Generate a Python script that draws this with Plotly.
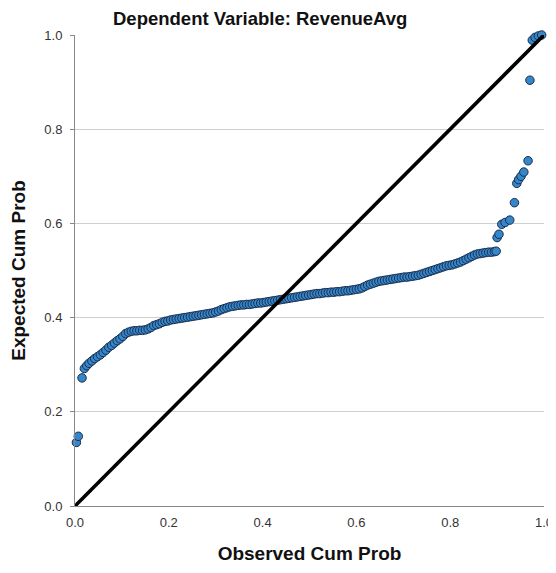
import plotly.graph_objects as go

# Observed cumulative probability (x) and expected cumulative probability (y)
observed = [
    0.003, 0.007,
    0.015, 0.020, 0.025, 0.030, 0.036, 0.042, 0.048, 0.054, 0.060, 0.066, 0.072, 0.078, 0.084, 0.090, 0.096, 0.102, 0.108, 0.114, 0.120,
    0.126, 0.132, 0.138, 0.144, 0.150, 0.156, 0.162, 0.168, 0.174, 0.180, 0.186, 0.192, 0.198, 0.204, 0.210, 0.216, 0.222, 0.228, 0.234, 0.240,
    0.246, 0.252, 0.258, 0.264, 0.270, 0.276, 0.282, 0.288, 0.294, 0.300, 0.306, 0.312, 0.318, 0.324, 0.330, 0.336, 0.342, 0.348, 0.354, 0.360,
    0.366, 0.372, 0.378, 0.384, 0.390, 0.396, 0.402, 0.408, 0.414, 0.420, 0.426, 0.432, 0.438, 0.444, 0.450, 0.456, 0.462, 0.468, 0.474, 0.480,
    0.486, 0.492, 0.498,
    0.504, 0.510, 0.516, 0.522, 0.528, 0.534, 0.540, 0.546, 0.552, 0.558, 0.564, 0.570, 0.576, 0.582, 0.588, 0.594, 0.600, 0.606, 0.612, 0.618,
    0.624, 0.630, 0.636, 0.642, 0.648, 0.654, 0.660, 0.666, 0.672, 0.678, 0.684, 0.690, 0.696, 0.702, 0.708, 0.714, 0.720, 0.726, 0.732, 0.738,
    0.744, 0.750,
    0.756, 0.762, 0.768, 0.774, 0.780, 0.786, 0.792, 0.798, 0.804, 0.810, 0.816, 0.822, 0.828, 0.834, 0.840, 0.846, 0.852, 0.858, 0.864, 0.870,
    0.876, 0.882, 0.888, 0.894, 0.898,
    0.900, 0.904, 0.910, 0.917, 0.927, 0.937, 0.942, 0.946, 0.951, 0.957, 0.966, 0.970, 0.975, 0.981, 0.988, 0.995,
]
expected = [
    0.135, 0.148,
    0.272, 0.292, 0.298, 0.303, 0.308, 0.313, 0.317, 0.321, 0.326, 0.331, 0.337, 0.341, 0.346, 0.351, 0.355, 0.360, 0.366, 0.369, 0.371,
    0.372, 0.372, 0.373, 0.373, 0.374, 0.376, 0.379, 0.383, 0.385, 0.387, 0.390, 0.392, 0.393, 0.395, 0.396, 0.397, 0.398, 0.399, 0.400, 0.401,
    0.402, 0.403, 0.404, 0.405, 0.406, 0.407, 0.408, 0.409, 0.410, 0.412, 0.414, 0.417, 0.419, 0.421, 0.423, 0.424, 0.425, 0.426, 0.427, 0.427,
    0.428, 0.428, 0.429, 0.430, 0.431, 0.431, 0.432, 0.433, 0.434, 0.435, 0.436, 0.437, 0.438, 0.439, 0.440, 0.441, 0.442, 0.443, 0.444, 0.445,
    0.446, 0.447, 0.448,
    0.449, 0.450, 0.451, 0.451, 0.452, 0.453, 0.453, 0.454, 0.454, 0.455, 0.455, 0.456, 0.457, 0.457, 0.458, 0.459, 0.460, 0.461, 0.463, 0.466,
    0.469, 0.471, 0.473, 0.475, 0.477, 0.478, 0.479, 0.480, 0.481, 0.482, 0.483, 0.484, 0.485, 0.486, 0.486, 0.487, 0.488, 0.489, 0.490, 0.492,
    0.494, 0.496,
    0.498, 0.500, 0.502, 0.504, 0.506, 0.508, 0.510, 0.511, 0.512, 0.514, 0.516, 0.518, 0.521, 0.524, 0.527, 0.530, 0.533, 0.535, 0.536, 0.537,
    0.538, 0.539, 0.539, 0.540, 0.541,
    0.570, 0.577, 0.598, 0.602, 0.607, 0.644, 0.685, 0.693, 0.700, 0.709, 0.733, 0.904, 0.989, 0.995, 0.998, 1.000,
]

ref_line = [0.0, 1.0]
tick_vals = [0.0, 0.2, 0.4, 0.6, 0.8, 1.0]
tick_text = ["0.0", "0.2", "0.4", "0.6", "0.8", "1.0"]

title_text = "Dependent Variable: RevenueAvg"
x_title = "Observed Cum Prob"
y_title = "Expected Cum Prob"

FONT = "Liberation Sans, Arial, sans-serif"

# page body has an 8px default margin, so the figure is sized to fit the window
W, H = 548, 565
ML, MR, MT, MB = 67, 12, 27, 67

fig = go.Figure()
fig.add_trace(go.Scatter(
    x=observed, y=expected, mode="markers",
    marker=dict(size=8.5, color="#3587ca", line=dict(color="#1a2d4e", width=1)),
    cliponaxis=False, showlegend=False,
))
fig.add_trace(go.Scatter(
    x=ref_line, y=ref_line, mode="lines",
    line=dict(color="black", width=3.6),
    cliponaxis=False, showlegend=False,
))

fig.update_layout(
    width=W, height=H,
    margin=dict(l=ML, r=MR, t=MT, b=MB, autoexpand=False),
    paper_bgcolor="white", plot_bgcolor="white",
    font=dict(family=FONT, color="#222"),
    annotations=[dict(
        text=f"<b>{title_text}</b>", xref="paper", yref="paper",
        x=(252 - ML) / (W - ML - MR), y=1.0, yshift=17,
        xanchor="center", yanchor="middle", showarrow=False,
        font=dict(family=FONT, size=18.5, color="#111"),
    )],
)
fig.update_xaxes(
    range=[0, 1], tickvals=tick_vals, ticktext=tick_text,
    showgrid=False, zeroline=False, automargin=False,
    showline=True, linecolor="#888", linewidth=1,
    ticks="", ticklabelstandoff=4,
    tickfont=dict(family=FONT, size=13, color="#333"),
    title=dict(text=f"<b>{x_title}</b>", font=dict(family=FONT, size=19, color="#111"), standoff=18),
)
fig.update_yaxes(
    range=[0, 1], tickvals=tick_vals, ticktext=tick_text,
    showgrid=True, gridcolor="#cfcfcf", gridwidth=1, zeroline=False, automargin=False,
    showline=True, linecolor="#888", linewidth=1,
    ticks="outside", ticklen=4, tickcolor="#888", ticklabelstandoff=5,
    tickfont=dict(family=FONT, size=13, color="#333"),
    title=dict(text=f"<b>{y_title}</b>", font=dict(family=FONT, size=19, color="#111"), standoff=13),
)

fig.write_html("out.html")
